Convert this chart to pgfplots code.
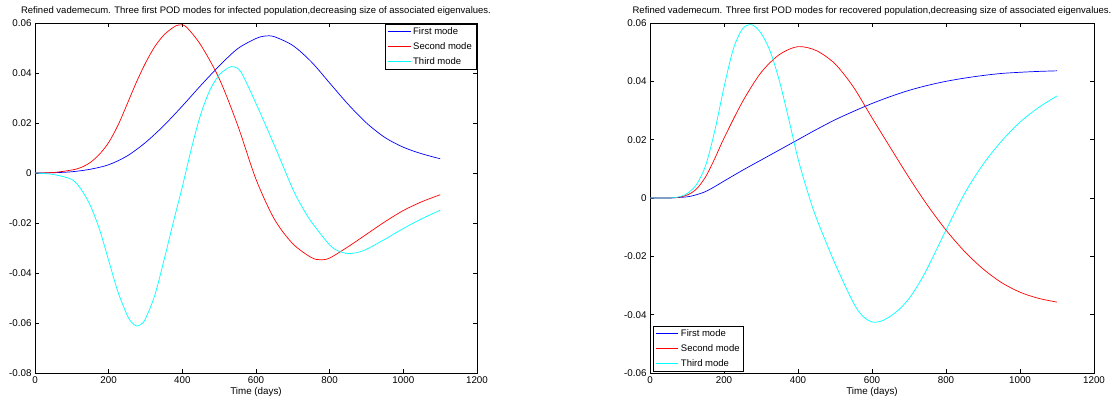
\documentclass[border=0pt]{standalone}
\usepackage{pgfplots}
\pgfplotsset{compat=1.18}
\usepackage{fontspec}
\setmainfont{Liberation Sans}
\definecolor{mblue}{RGB}{0,0,255}
\definecolor{mred}{RGB}{255,0,0}
\definecolor{mcyan}{RGB}{0,255,255}
\pgfplotsset{
  mstyle/.style={
    scale only axis, width=442pt, height=350pt,
    xmin=0, xmax=1200, xtick={0,200,...,1200},
    scaled ticks=false,
    /pgf/number format/assume math mode=true,
    xticklabel style={/pgf/number format/1000 sep={}},
    yticklabel style={/pgf/number format/fixed,/pgf/number format/precision=2},
    tick label style={font=\fontsize{9.8}{11}\selectfont},
    label style={font=\fontsize{9.8}{11}\selectfont},
    title style={font=\fontsize{9.5}{11}\selectfont, yshift=-2pt},
    tick align=inside, major tick length=4pt,
    axis line style={line width=0.6pt},
    every tick/.style={black, line width=0.5pt},
    xlabel={Time (days)},
    xlabel style={yshift=3pt},
    legend style={font=\fontsize{9.5}{11}\selectfont,
      inner xsep=2pt, inner ysep=1pt, row sep=2.6pt, cells={anchor=west}},
    legend image code/.code={\draw[#1, line width=1pt] plot coordinates {(0cm,0.02cm) (0.8cm,0.02cm)};},
    every axis plot/.append style={line width=0.7pt, smooth},
  }
}
\begin{document}
\begin{tikzpicture}
\path[use as bounding box] (0,0) rectangle (1120pt,402pt);
\begin{axis}[mstyle, at={(35pt,29pt)},
  ymin=-0.08, ymax=0.06, ytick={-0.08,-0.06,...,0.061},
  title={Refined vademecum. Three first POD modes for infected population,decreasing size of associated eigenvalues.},
  legend style={at={(rel axis cs:1,1)}, anchor=north east, xshift=-1pt, yshift=-1.5pt}]
\addplot[draw=mblue, color=mblue] coordinates {(0,0)(50,0.0001)(100,0.0005)(150,0.0015)(200,0.0033)(250,0.0068)(300,0.0122)(350,0.0190)(400,0.0268)(450,0.0350)(500,0.0428)(550,0.0497)(600,0.0538)(625,0.0548)(650,0.0545)(700,0.0510)(750,0.0445)(800,0.0360)(850,0.0275)(900,0.0200)(950,0.0142)(1000,0.0103)(1050,0.0077)(1100,0.0057)};
\addlegendentry{First mode}
\addplot[draw=mred, color=mred] coordinates {(0,0)(50,0.0002)(100,0.0012)(125,0.0022)(150,0.0042)(175,0.0075)(200,0.0122)(225,0.0190)(250,0.0275)(275,0.0362)(300,0.0440)(325,0.0505)(350,0.0552)(375,0.0582)(390,0.0592)(410,0.0585)(450,0.0512)(500,0.0378)(550,0.0192)(600,-0.0025)(650,-0.0185)(700,-0.0283)(750,-0.0338)(775,-0.0347)(800,-0.0340)(850,-0.0295)(900,-0.0245)(950,-0.0195)(1000,-0.0150)(1050,-0.0115)(1100,-0.0087)};
\addlegendentry{Second mode}
\addplot[draw=mcyan, color=mcyan] coordinates {(0,0)(50,-0.0006)(100,-0.0026)(125,-0.0065)(150,-0.0130)(175,-0.0225)(200,-0.0350)(225,-0.0475)(250,-0.0568)(262,-0.0597)(275,-0.0612)(288,-0.0605)(300,-0.0583)(325,-0.0490)(350,-0.0350)(375,-0.0200)(400,-0.0055)(425,0.0100)(450,0.0235)(475,0.0332)(500,0.0392)(525,0.0421)(540,0.0425)(560,0.0402)(600,0.0278)(650,0.0110)(700,-0.0065)(725,-0.0135)(750,-0.0195)(800,-0.0288)(825,-0.0313)(850,-0.0322)(875,-0.0318)(900,-0.0305)(950,-0.0265)(1000,-0.0222)(1050,-0.0183)(1100,-0.0149)};
\addlegendentry{Third mode}
\end{axis}
\begin{axis}[mstyle, at={(650pt,29pt)}, width=444pt,
  ymin=-0.06, ymax=0.06, ytick={-0.06,-0.04,...,0.061},
  title={Refined vademecum. Three first POD modes for recovered population,decreasing size of associated eigenvalues.},
  legend style={at={(rel axis cs:0,0)}, anchor=south west, xshift=3pt, yshift=2pt}]
\addplot[draw=mblue, color=mblue] coordinates {(0,0)(50,0)(100,0.0004)(125,0.0011)(150,0.0022)(175,0.0039)(200,0.0058)(250,0.0095)(300,0.0130)(350,0.0165)(400,0.0200)(450,0.0235)(500,0.0268)(550,0.0297)(600,0.0324)(650,0.0348)(700,0.0369)(750,0.0386)(800,0.0400)(850,0.0411)(900,0.0420)(950,0.0427)(1000,0.0431)(1050,0.0434)(1100,0.0436)};
\addlegendentry{First mode}
\addplot[draw=mred, color=mred] coordinates {(0,0)(50,0)(75,0.0002)(100,0.0010)(125,0.0030)(150,0.0072)(175,0.0135)(200,0.0205)(250,0.0330)(300,0.0430)(350,0.0492)(400,0.0519)(450,0.0505)(500,0.0460)(550,0.0380)(600,0.0275)(650,0.0172)(700,0.0070)(750,-0.0025)(800,-0.0110)(850,-0.0183)(900,-0.0243)(950,-0.0290)(1000,-0.0323)(1050,-0.0344)(1100,-0.0357)};
\addlegendentry{Second mode}
\addplot[draw=mcyan, color=mcyan] coordinates {(0,0)(50,0)(75,0.0003)(100,0.0015)(125,0.0045)(150,0.0110)(175,0.0230)(200,0.0380)(225,0.0510)(250,0.0580)(275,0.0594)(300,0.0565)(325,0.0502)(350,0.0400)(375,0.0270)(400,0.0135)(425,0.0025)(450,-0.0070)(500,-0.0225)(550,-0.0360)(575,-0.0405)(600,-0.0425)(625,-0.0422)(650,-0.0405)(675,-0.0380)(700,-0.0345)(725,-0.0297)(750,-0.0240)(800,-0.0110)(850,0.0015)(900,0.0115)(950,0.0195)(1000,0.0260)(1050,0.0310)(1100,0.0350)};
\addlegendentry{Third mode}
\end{axis}
\end{tikzpicture}
\end{document}
